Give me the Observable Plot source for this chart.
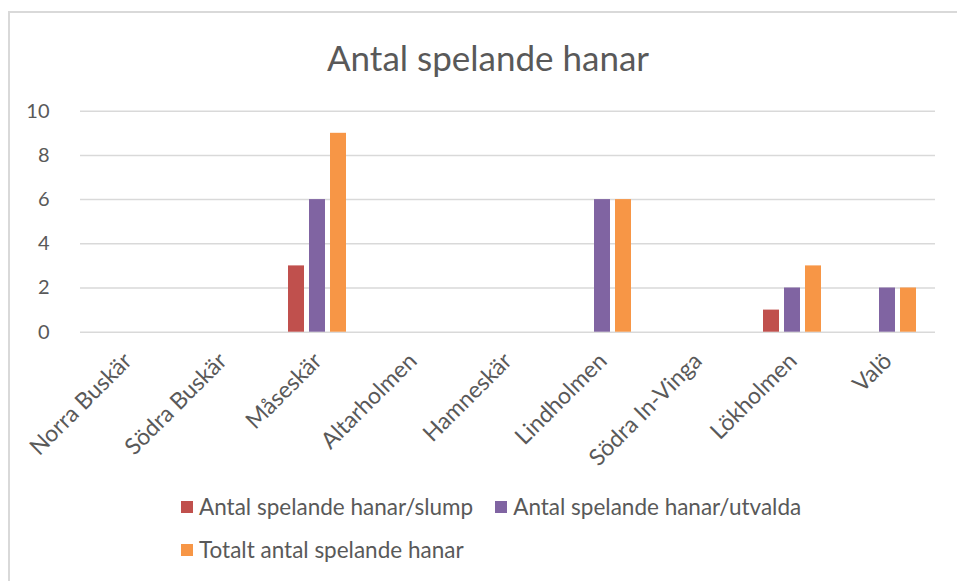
<!DOCTYPE html>
<html><head><meta charset="utf-8">
<script src="https://cdn.jsdelivr.net/npm/d3@7"></script>
<script src="https://cdn.jsdelivr.net/npm/@observablehq/plot@0.6"></script>
<style>
body{margin:0;background:#fff;font-family:Lato,"Open Sans",sans-serif;color:#595959;width:957px;height:581px;overflow:hidden;position:relative;}
#frame{position:absolute;left:8px;top:11px;width:980px;height:600px;border-left:2px solid #d9d9d9;border-top:2px solid #d9d9d9;}
#title{position:absolute;left:0;width:976px;top:36px;text-align:center;font-size:35px;line-height:42px;}
#chart{position:absolute;left:0;top:90px;}
#legend{position:absolute;left:181px;top:493px;width:660px;display:flex;flex-wrap:wrap;row-gap:15px;column-gap:22px;font-size:22.5px;line-height:28px;}
.item{display:flex;align-items:center;white-space:nowrap;}
.sw{width:12px;height:12px;margin-right:6px;flex:none;}
</style></head>
<body>
<div id="frame"></div>
<div id="title">Antal spelande hanar</div>
<div id="chart"></div>
<div id="legend"></div>
<script>
const categories = ["Norra Buskär","Södra Buskär","Måseskär","Altarholmen","Hamneskär","Lindholmen","Södra In-Vinga","Lökholmen","Valö"];
const series = ["Antal spelande hanar/slump","Antal spelande hanar/utvalda","Totalt antal spelande hanar"];
const slump   = [0,0,3,0,0,0,0,1,0];
const utvalda = [0,0,6,0,0,6,0,2,2];
const totalt  = [0,0,9,0,0,6,0,3,2];
const colors = ["#C0504D","#8064A2","#F79646"];
const yTicks = [0,2,4,6,8,10];

const values = [slump, utvalda, totalt];
const data = [];
categories.forEach((c,i)=>series.forEach((s,j)=>data.push({category:c, series:s, value:values[j][i]})));

const plot = Plot.plot({
  width:957, height:380,
  marginLeft:76, marginRight:18, marginTop:20.7, marginBottom:138.3,
  style:{color:"#595959", fontFamily:"Lato, 'Open Sans', sans-serif", background:"transparent"},
  fx:{domain:categories, padding:0, paddingOuter:0, label:null},
  x:{domain:series, paddingInner:0.22, paddingOuter:0.85, axis:null},
  y:{domain:[0,10], label:null},
  color:{domain:series, range:colors},
  marks:[
    Plot.gridY(yTicks, {stroke:"#d9d9d9", strokeOpacity:1, strokeWidth:1.5}),
    Plot.axisY(yTicks, {tickSize:0, tickPadding:27, dx:-4, fontSize:20, label:null}),
    Plot.axisFx({anchor:"bottom", tickRotate:-45, tickSize:0, tickPadding:25, fontSize:23, label:null}),
    Plot.barY(data, {fx:"category", x:"series", y:"value", fill:"series"})
  ]
});
document.getElementById("chart").appendChild(plot);

const leg = document.getElementById("legend");
series.forEach((s,j)=>{
  const it = document.createElement("div"); it.className="item";
  const sw = document.createElement("div"); sw.className="sw"; sw.style.background=colors[j];
  const t = document.createElement("span"); t.textContent=s;
  it.appendChild(sw); it.appendChild(t); leg.appendChild(it);
});
</script>
</body></html>
